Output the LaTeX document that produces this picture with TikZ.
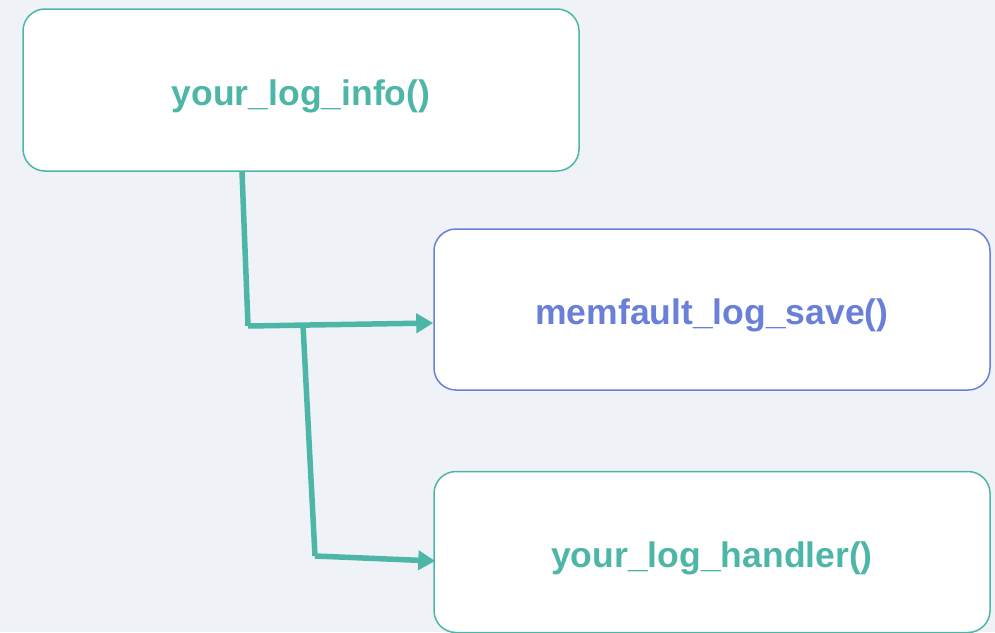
\documentclass[tikz,border=0pt]{standalone}
\usepackage{fontspec}
\setmainfont{Liberation Sans}
\usetikzlibrary{arrows.meta}
\definecolor{bgc}{HTML}{EFF3F8}
\definecolor{teal}{HTML}{4DB6A6}
\definecolor{blu}{HTML}{6A80D8}
\tikzset{
  fbox/.style={draw, line width=1.5pt, fill=white, rounded corners=22pt, inner sep=0pt,
    text height=30pt, text depth=0pt, minimum width=556pt, minimum height=161pt,
    font=\fontsize{35.5}{40}\selectfont\bfseries},
  conn/.style={draw=teal, line width=5.5pt, line join=miter, -{Triangle[length=17pt,width=19pt]}},
  plain/.style={draw=teal, line width=5.5pt, line join=miter}
}
\begin{document}
\begin{tikzpicture}[x=1pt,y=-1pt]
\useasboundingbox (0,0) rectangle (995,632);
\fill[bgc] (0,0) rectangle (995,632);
\begin{scope}
\clip (0,0) rectangle (995,632);
\node[fbox, draw=teal, text=teal, minimum height=162pt] (info) at (301,90) {your\_log\_info()};
\node[fbox, draw=blu, text=blu] (save) at (712,309.5) {memfault\_log\_save()};
\node[fbox, draw=teal, text=teal] (handler) at (712,552) {your\_log\_handler()};
\coordinate (j1) at (248,326);
\coordinate (j2) at (303,325);
\coordinate (j3) at (315,556);
\path[plain] ([xshift=-59pt]info.south) -- (j1);
\path[conn] (j1) -- ([yshift=-13.5pt]save.west);
\path[plain] (j2) -- (j3);
\path[conn] (j3) -- ([xshift=2pt,yshift=-9pt]handler.west);
\end{scope}
\end{tikzpicture}
\end{document}
